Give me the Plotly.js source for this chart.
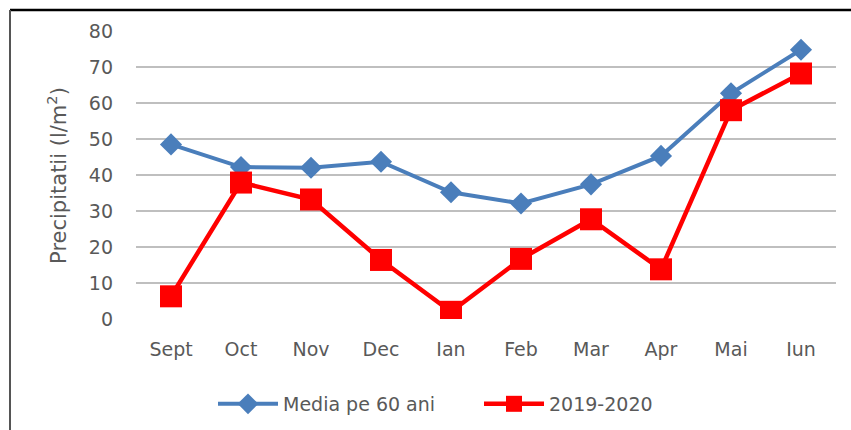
<!DOCTYPE html>
<html>
<head>
<meta charset="utf-8">
<script src="https://cdn.plot.ly/plotly-3.0.1.min.js"></script>
<style>html,body{margin:0;padding:0;background:#fff;}#chart{width:851px;height:430px;}</style>
</head>
<body>
<div id="chart"></div>
<script>
var months = ["Sept","Oct","Nov","Dec","Ian","Feb","Mar","Apr","Mai","Iun"];
var media60 = [48.5, 42.2, 42.0, 43.7, 35.2, 32.1, 37.4, 45.3, 62.7, 74.8];
var y2019_2020 = [6.3, 37.9, 33.2, 16.4, 2.0, 16.7, 27.7, 13.8, 58.0, 68.2];
var yTicks = [0,10,20,30,40,50,60,70,80];
var seriesNames = ["Media pe 60 ani", "2019-2020"];
var yTitle = "Precipitatii (l/m<sup>2</sup>)";

var fontFam = "'DejaVu Sans', sans-serif";
var txtCol = "#595959";

var traces = [
  {x: months, y: media60, name: seriesNames[0], type: "scatter", mode: "lines+markers",
   line: {color: "#4A7EBB", width: 4}, marker: {symbol: "diamond", size: 17, color: "#4A7EBB"}},
  {x: months, y: y2019_2020, name: seriesNames[1], type: "scatter", mode: "lines+markers",
   line: {color: "#FF0000", width: 4.5}, marker: {symbol: "square", size: 22, color: "#FF0000"}}
];

var layout = {
  width: 851, height: 430, autosize: false,
  margin: {l: 136, r: 15, t: 31, b: 111, autoexpand: false},
  paper_bgcolor: "#ffffff", plot_bgcolor: "#ffffff",
  font: {family: fontFam, size: 19, color: txtCol},
  showlegend: true,
  xaxis: {type: "category", range: [-0.5, 9.5], showgrid: false, zeroline: false, showline: false,
          ticks: "", ticklabelstandoff: 17, tickfont: {size: 19, color: txtCol}, fixedrange: true},
  yaxis: {range: [0, 80], tickvals: yTicks, showgrid: true, gridcolor: "#BFBFBF", gridwidth: 1.5,
          zeroline: false, showline: false, ticks: "", ticklabelstandoff: 22,
          tickfont: {size: 19, color: txtCol}, fixedrange: true},
  legend: {orientation: "h", x: 0.11, xanchor: "left", y: -0.295, yanchor: "middle",
           font: {size: 19, color: txtCol}, itemwidth: 60, entrywidth: 191, traceorder: "normal"},
  annotations: [
    {text: yTitle, xref: "paper", yref: "paper", x: -0.113, y: 0.5, xanchor: "center", yanchor: "middle",
     textangle: -90, showarrow: false, font: {size: 21, color: txtCol, family: fontFam}}
  ],
  shapes: [
    {type: "line", xref: "paper", yref: "paper", x0: -0.18, x1: 1.03, y0: 1.0729, y1: 1.0729,
     line: {color: "#000000", width: 2.5}},
    {type: "line", xref: "paper", yref: "paper", x0: -0.18, x1: -0.18, y0: 1.0729, y1: -0.4,
     line: {color: "#555555", width: 2}}
  ]
};

Plotly.newPlot("chart", traces, layout, {displayModeBar: false, staticPlot: true});
</script>
</body>
</html>
